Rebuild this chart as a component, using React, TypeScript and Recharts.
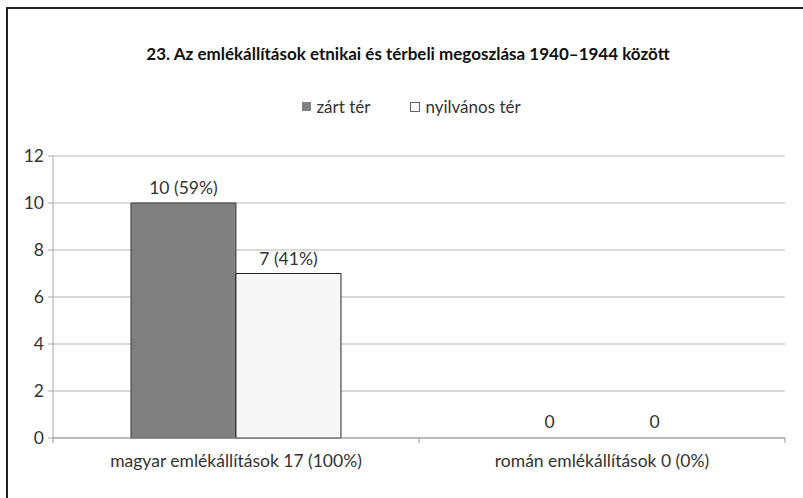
import React from 'react';
import { BarChart, Bar, XAxis, YAxis, CartesianGrid, LabelList, Cell } from 'recharts';

const categories = ['magyar emlékállítások 17 (100%)', 'román emlékállítások 0 (0%)'];
const zartValues = [10, 0];
const nyilvanosValues = [7, 0];
const zartLabels = ['10 (59%)', '0'];
const nyilvanosLabels = ['7 (41%)', '0'];
const yTicks = [0, 2, 4, 6, 8, 10, 12];

const data = categories.map((name, i) => ({
  name,
  zart: zartValues[i],
  nyilvanos: nyilvanosValues[i],
  zartLabel: zartLabels[i],
  nyilvanosLabel: nyilvanosLabels[i],
}));

const FONT = 'Lato, "Open Sans", sans-serif';
const TEXT = '#333';
const FS = 17.5;

const CategoryTick = (props: any) => {
  const { x, y, payload, index, visibleTicksCount } = props;
  const half = 183;
  return (
    <g>
      <line x1={x - half} y1={y - 8} x2={x - half} y2={y - 3} stroke="#999" />
      {index === visibleTicksCount - 1 && (
        <line x1={x + half} y1={y - 8} x2={x + half} y2={y - 3} stroke="#999" />
      )}
      <text x={x} y={y + 21} textAnchor="middle" fill={TEXT} fontSize={FS} fontFamily={FONT}>
        {payload.value}
      </text>
    </g>
  );
};

export default function App() {
  return (
    <div style={{ position: 'absolute', left: 0, top: 0, width: 803, height: 498, background: '#fff', fontFamily: FONT }}>
      <div style={{ position: 'absolute', left: 6, top: 7, right: 0, bottom: 0, borderLeft: '2px solid #222', borderTop: '2px solid #222' }} />
      <div style={{ position: 'absolute', left: 0, width: 816, top: 43, textAlign: 'center', fontWeight: 700, fontSize: 17, color: '#111', whiteSpace: 'nowrap' }}>
        23. Az emlékállítások etnikai és térbeli megoszlása 1940–1944 között
      </div>
      <div style={{ position: 'absolute', left: 0, width: 803, top: 96, display: 'flex', justifyContent: 'center', gap: 40, fontSize: 17, color: TEXT, paddingLeft: 10 }}>
        <span style={{ display: 'flex', alignItems: 'center' }}>
          <span style={{ width: 9, height: 9, background: '#808080', marginRight: 5 }} />zárt tér
        </span>
        <span style={{ display: 'flex', alignItems: 'center' }}>
          <span style={{ width: 8, height: 8, background: '#fafafa', border: '1px solid #666', marginRight: 5 }} />nyilvános tér
        </span>
      </div>
      <BarChart
        width={803}
        height={498}
        data={data}
        margin={{ top: 156, right: 18, bottom: 29, left: 8 }}
        barCategoryGap="21.3%"
        barGap={0}
        style={{ position: 'absolute', left: 0, top: 0 }}
      >
        <CartesianGrid vertical={false} stroke="#b5b5b5" />
        <YAxis
          width={45}
          domain={[0, 12]}
          ticks={yTicks}
          axisLine={{ stroke: '#a8a8a8' }}
          tickLine={{ stroke: '#a8a8a8' }}
          tickSize={5}
          tickMargin={4}
          tick={{ fill: TEXT, fontSize: FS, fontFamily: FONT }}
          interval={0}
        />
        <XAxis
          dataKey="name"
          height={31}
          axisLine={{ stroke: '#999' }}
          tickLine={false}
          tick={<CategoryTick />}
          interval={0}
        />
        <Bar dataKey="zart" fill="#808080" stroke="#3a3a3a" strokeWidth={1} minPointSize={1} isAnimationActive={false}>
          {data.map((d, i) => (
            <Cell key={i} fill={d.zart === 0 ? 'none' : '#808080'} stroke={d.zart === 0 ? 'none' : '#3a3a3a'} />
          ))}
          <LabelList dataKey="zartLabel" position="top" offset={9} fill={TEXT} fontSize={FS} fontFamily={FONT} />
        </Bar>
        <Bar dataKey="nyilvanos" fill="#f7f7f7" stroke="#222" strokeWidth={1} minPointSize={1} isAnimationActive={false}>
          {data.map((d, i) => (
            <Cell key={i} fill={d.nyilvanos === 0 ? 'none' : '#f7f7f7'} stroke={d.nyilvanos === 0 ? 'none' : '#222'} />
          ))}
          <LabelList dataKey="nyilvanosLabel" position="top" offset={9} fill={TEXT} fontSize={FS} fontFamily={FONT} />
        </Bar>
      </BarChart>
    </div>
  );
}
